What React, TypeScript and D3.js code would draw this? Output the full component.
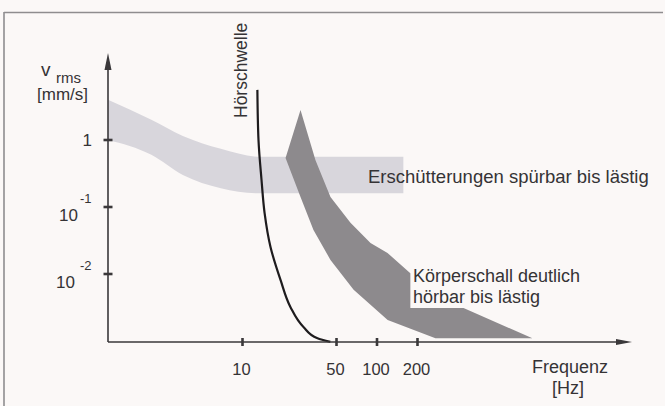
import React from "react";
import * as d3 from "d3";

const W = 665;
const H = 406;

// x ticks (Hz)
const xTickValues = [10, 50, 100, 200];
const xTickLabels = ["10", "50", "100", "200"];
// y ticks (mm/s)
const yTickValues = [1, 0.1, 0.01];
const yTickBase = ["1", "10", "10"];
const yTickExp = ["", "-1", "-2"];

// Light band "Erschütterungen spürbar bis lästig": [freq, upper, lower]
const vibFreq = [1.0, 2.1, 3.6, 6.9, 13.6, 157];
const vibUpper = [4.0, 2.0, 1.15, 0.74, 0.56, 0.56];
const vibLower = [1.0, 0.6, 0.3, 0.19, 0.16, 0.16];

// Dark band "Körperschall deutlich hörbar bis lästig" (polygon outline)
const bodyFreq = [20.9, 27.0, 34.9, 45.1, 63.5, 89.5, 119.7, 177, 177, 440, 1430, 272, 120, 67, 45.1, 33.7, 27.0];
const bodyVal = [0.54, 2.8, 0.5, 0.141, 0.058, 0.029, 0.0206, 0.0103, 0.0031, 0.0031, 0.0011, 0.0011, 0.00206, 0.0058, 0.0162, 0.0454, 0.141];

// Hörschwelle curve
const hearFreq = [12.9, 13.15, 13.85, 14.6, 16.15, 19.2, 22.75, 28.4, 36.1, 45];
const hearVal = [5.6, 1.0, 0.253, 0.081, 0.0253, 0.0081, 0.0032, 0.00162, 0.0011, 0.00097];

const FONT = "'Liberation Sans', Arial, Helvetica, sans-serif";
const TXT = "#353335";

export default function App() {
  const x = d3.scaleLog().domain([1, 10000]).range([108, 646]);
  const y = d3.scaleLog().domain([0.001, 10]).range([341, 73]);
  const x0 = x(1);
  const y0 = 342;
  const yMin = y.invert(y0);

  const vibArea = d3
    .area<number>()
    .x((i) => x(vibFreq[i]))
    .y0((i) => y(vibLower[i]))
    .y1((i) => y(vibUpper[i]))
    .curve(d3.curveMonotoneX)(vibFreq.map((_, i) => i));

  const bodyPath = d3
    .line<number>()
    .x((i) => x(bodyFreq[i]))
    .y((i) => y(bodyVal[i]))
    .curve(d3.curveLinearClosed)(bodyFreq.map((_, i) => i));

  const hearPath = d3
    .line<number>()
    .x((i) => x(hearFreq[i]))
    .y((i) => y(Math.max(hearVal[i], yMin)))
    .curve(d3.curveMonotoneY)(hearFreq.map((_, i) => i));

  const axisColor = "#3a383a";
  const xEnd = 632;
  const yTop = 53;

  return (
    <svg
      width={W}
      height={H}
      style={{ position: "absolute", left: 0, top: 0, background: "#fbf8f7" }}
      fontFamily={FONT}
    >
      <rect x={0} y={0} width={W} height={H} fill="#fbf8f7" />
      {/* frame */}
      <line x1={4} y1={12} x2={4} y2={H} stroke="#8f8d8f" strokeWidth={1.6} />
      <line x1={4} y1={12.5} x2={663} y2={12.5} stroke="#8f8d8f" strokeWidth={1.6} />

      {/* light band */}
      <path d={vibArea || ""} fill="#d8d6dc" />
      {/* dark band */}
      <path d={bodyPath || ""} fill="#8d8a8d" />
      {/* hearing threshold */}
      <path d={hearPath || ""} fill="none" stroke="#1e1c1e" strokeWidth={2.2} />

      {/* axes */}
      <line x1={x0} y1={y0} x2={xEnd - 10} y2={y0} stroke={axisColor} strokeWidth={1.6} />
      <polygon points={`${xEnd},${y0} ${xEnd - 16},${y0 - 3} ${xEnd - 16},${y0 + 3}`} fill={axisColor} />
      <line x1={x0} y1={y0} x2={x0} y2={yTop + 10} stroke={axisColor} strokeWidth={1.6} />
      <polygon points={`${x0},${yTop} ${x0 - 3.5},${yTop + 17} ${x0 + 3.5},${yTop + 17}`} fill={axisColor} />

      {/* x ticks */}
      {xTickValues.map((v, i) => (
        <g key={"xt" + i}>
          <line x1={x(v)} x2={x(v)} y1={y0 - 4} y2={y0 + 4} stroke={axisColor} strokeWidth={2.6} />
          <text x={x(v) - 1} y={375} textAnchor="middle" fontSize={16.5} fill={TXT}>
            {xTickLabels[i]}
          </text>
        </g>
      ))}

      {/* y ticks */}
      {yTickValues.map((v, i) => (
        <g key={"yt" + i}>
          <line x1={x0 - 4.5} x2={x0 + 4.5} y1={y(v)} y2={y(v)} stroke={axisColor} strokeWidth={2.6} />
          {yTickExp[i] === "" ? (
            <text x={92} y={y(v) + 6} textAnchor="end" fontSize={17} fill={TXT}>
              {yTickBase[i]}
            </text>
          ) : (
            <g>
              <text x={i === 2 ? 75 : 78} y={y(v) + 14} textAnchor="end" fontSize={17} fill={TXT}>
                {yTickBase[i]}
              </text>
              <text x={80} y={y(v) - 4} textAnchor="start" fontSize={13} fill={TXT}>
                {yTickExp[i]}
              </text>
            </g>
          )}
        </g>
      ))}

      {/* y axis title */}
      <text x={41} y={76} fontSize={19} fill={TXT}>v</text>
      <text x={56} y={83} fontSize={15} fill={TXT}>rms</text>
      <text x={37} y={100} fontSize={17} fill={TXT}>[mm/s]</text>

      {/* x axis title */}
      <text x={570} y={373} textAnchor="middle" fontSize={18} fill={TXT}>Frequenz</text>
      <text x={568} y={394} textAnchor="middle" fontSize={18} fill={TXT}>[Hz]</text>

      {/* annotations */}
      <text transform="translate(247,118) rotate(-90)" fontSize={17.5} fill={TXT}>
        Hörschwelle
      </text>
      <text x={368} y={183} fontSize={18.5} fill={TXT}>Erschütterungen spürbar bis lästig</text>
      <text x={413} y={282} fontSize={18} fill={TXT}>Körperschall deutlich</text>
      <text x={413} y={303} fontSize={18} fill={TXT}>hörbar bis lästig</text>
    </svg>
  );
}
